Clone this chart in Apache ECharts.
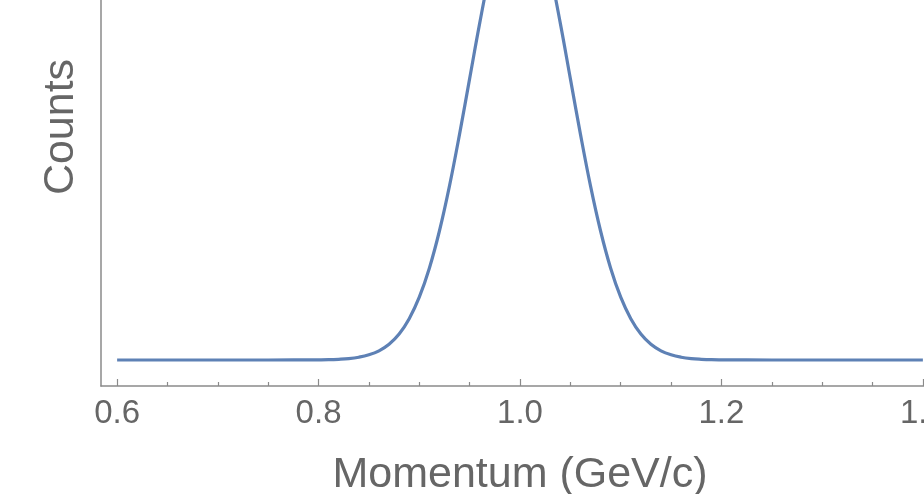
<!DOCTYPE html>
<html>
<head>
<meta charset="utf-8">
<script src="https://cdn.jsdelivr.net/npm/echarts@6/dist/echarts.min.js"></script>
<style>
html,body{margin:0;padding:0;background:#fff;}
#chart{width:924px;height:494px;}
</style>
</head>
<body>
<div id="chart"></div>
<script>
// Momentum values (GeV/c)
const momentum = [0.60, 0.65, 0.70, 0.75, 0.80, 0.81, 0.82, 0.83, 0.84, 0.85, 0.86, 0.87, 0.88, 0.89,
  0.90, 0.91, 0.92, 0.93, 0.94, 0.95, 0.96, 0.97, 0.98, 0.99, 1.00,
  1.01, 1.02, 1.03, 1.04, 1.05, 1.06, 1.07, 1.08, 1.09, 1.10,
  1.11, 1.12, 1.13, 1.14, 1.15, 1.16, 1.17, 1.18, 1.19, 1.20, 1.25, 1.30, 1.35, 1.40];
// Counts (arbitrary units)
const counts = [0, 0, 0, 0, 0.2, 0.3, 0.7, 1.4, 2.8, 5.2, 9.2, 15.8, 26.0, 41.3,
  62.8, 91.8, 129.0, 174.1, 225.9, 281.4, 336.9, 387.6, 428.3, 454.8, 464,
  454.8, 428.3, 387.6, 336.9, 281.4, 225.9, 174.1, 129.0, 91.8, 62.8,
  41.3, 26.0, 15.8, 9.2, 5.2, 2.8, 1.4, 0.7, 0.3, 0.2, 0, 0, 0, 0];
const majorTicks = [0.6, 0.8, 1.0, 1.2, 1.4];
const minorTicks = [0.65, 0.7, 0.75, 0.85, 0.9, 0.95, 1.05, 1.1, 1.15, 1.25, 1.3, 1.35];
const xRange = [0.584, 1.416];
const yRange = [-26, 492];

const axisColor = '#8a8a8a';
const textColor = '#666666';
const font = '"Liberation Sans", Arial, Helvetica, sans-serif';

const chart = echarts.init(document.getElementById('chart'), null, {renderer: 'canvas'});
chart.setOption({
  animation: false,
  backgroundColor: '#ffffff',
  grid: {left: 101, right: -15, top: -132, bottom: 108, containLabel: false, outerBoundsMode: 'none'},
  xAxis: [{
    type: 'value', min: xRange[0], max: xRange[1],
    name: 'Momentum (GeV/c)', nameLocation: 'middle', nameGap: 68,
    nameTextStyle: {color: textColor, fontSize: 43, fontFamily: font},
    axisLine: {show: true, onZero: false, lineStyle: {color: axisColor, width: 1.5}},
    axisTick: {show: true, inside: true, length: 7, customValues: majorTicks, lineStyle: {color: axisColor, width: 1.2}},
    axisLabel: {show: true, customValues: majorTicks, margin: 11, color: textColor, fontSize: 33, fontFamily: font,
      formatter: v => v.toFixed(1)},
    splitLine: {show: false}
  }, {
    type: 'value', min: xRange[0], max: xRange[1], position: 'bottom',
    axisLine: {show: false, onZero: false},
    axisTick: {show: true, inside: true, length: 4, customValues: minorTicks, lineStyle: {color: axisColor, width: 1.2}},
    axisLabel: {show: false},
    splitLine: {show: false}
  }],
  yAxis: {
    type: 'value', min: yRange[0], max: yRange[1],
    name: 'Counts', nameLocation: 'middle', nameGap: 18, nameRotate: 90,
    nameTextStyle: {color: textColor, fontSize: 43, fontFamily: font},
    axisLine: {show: true, onZero: false, lineStyle: {color: axisColor, width: 1.5}},
    axisTick: {show: false},
    axisLabel: {show: false},
    splitLine: {show: false}
  },
  series: [{
    type: 'line',
    xAxisIndex: 0,
    data: momentum.map((m, i) => [m, counts[i]]),
    showSymbol: false,
    smooth: 0.4,
    clip: true,
    lineStyle: {color: '#5E81B5', width: 3.2},
    itemStyle: {color: '#5E81B5'}
  }]
});
</script>
</body>
</html>
